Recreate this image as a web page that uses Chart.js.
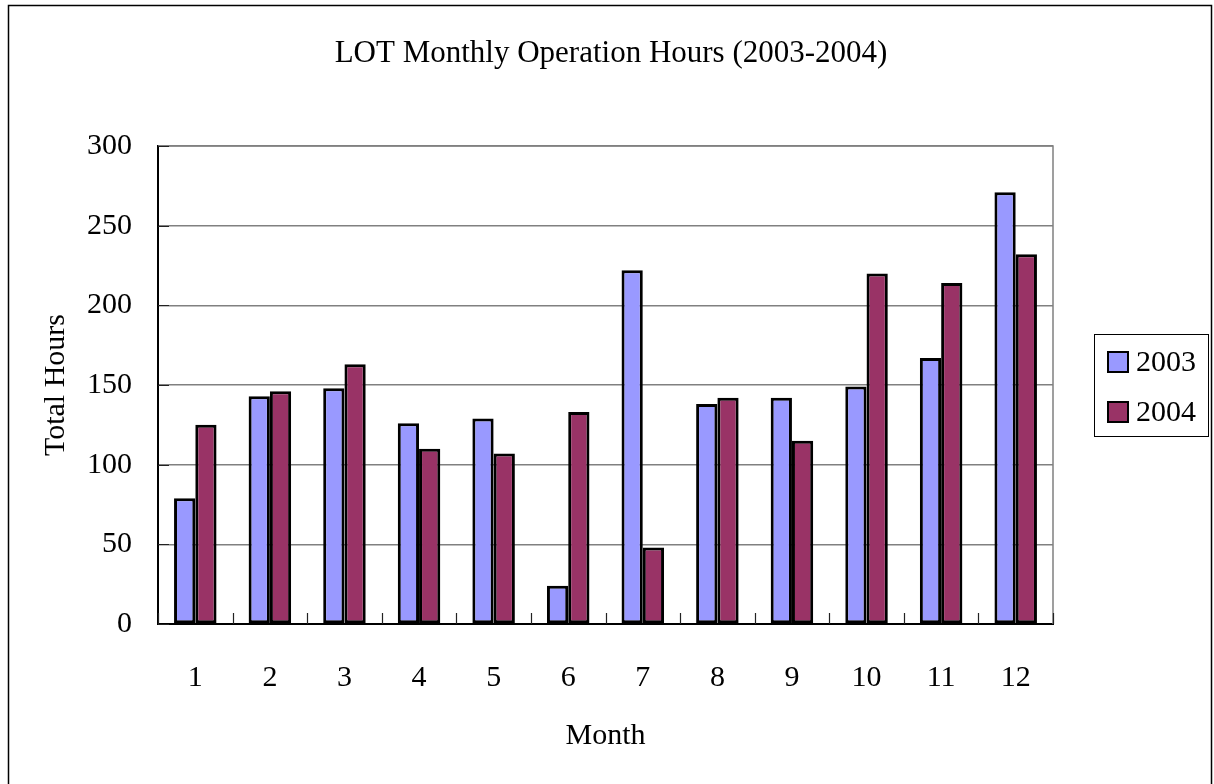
<!DOCTYPE html>
<html lang="en">
<head>
    <meta charset="UTF-8">
    <title>LOT Monthly Operation Hours</title>
    <style>
        body { margin: 0; background: #fff; }
        canvas { display: block; }
    </style>
</head>
<body>
    <canvas id="hoursChart" width="1214" height="784"></canvas>

<script src="https://cdn.jsdelivr.net/npm/chart.js"></script>
<script>
    const months = ['1', '2', '3', '4', '5', '6', '7', '8', '9', '10', '11', '12'];
    const hours2003 = [79, 143, 148, 126, 129, 24, 222, 138, 142, 149, 167, 271];
    const hours2004 = [125, 146, 163, 110, 107, 133, 48, 142, 115, 220, 214, 232];
    const seriesNames = ['2003', '2004'];
    const seriesColors = ['#9999ff', '#993366'];

    const serif = "'Liberation Serif', 'Times New Roman', serif";

    // title, outer frame, plot frame, inner ticks and the boxed legend
    const decorations = {
        id: 'decorations',
        afterDraw(chart) {
            const ctx = chart.ctx;
            const area = chart.chartArea;
            const x = chart.scales.x;
            const y = chart.scales.y;
            ctx.save();

            // outer frame
            ctx.strokeStyle = '#000';
            ctx.lineWidth = 1.5;
            ctx.strokeRect(8.5, 5.5, 1203, 800);

            // title
            ctx.fillStyle = '#000';
            ctx.font = '31px ' + serif;
            ctx.textAlign = 'center';
            ctx.textBaseline = 'alphabetic';
            ctx.fillText('LOT Monthly Operation Hours (2003-2004)', 611, 62);

            // grey top / right edge of plot
            ctx.strokeStyle = '#808080';
            ctx.lineWidth = 1.5;
            ctx.beginPath();
            ctx.moveTo(area.left, area.top);
            ctx.lineTo(area.right, area.top);
            ctx.lineTo(area.right, area.bottom);
            ctx.stroke();

            // inner ticks
            ctx.strokeStyle = '#222';
            ctx.lineWidth = 1.2;
            ctx.beginPath();
            y.ticks.forEach(t => {
                const py = Math.round(y.getPixelForValue(t.value)) + 0.5;
                ctx.moveTo(area.left, py);
                ctx.lineTo(area.left + 11, py);
            });
            const half = (x.getPixelForValue(1) - x.getPixelForValue(0)) / 2;
            for (let i = 0; i <= months.length; i++) {
                const px = Math.round(x.getPixelForValue(i) - half) + 0.5;
                ctx.moveTo(px, area.bottom);
                ctx.lineTo(px, area.bottom - 11);
            }
            ctx.stroke();

            // legend
            ctx.strokeStyle = '#000';
            ctx.lineWidth = 1;
            ctx.strokeRect(1094.5, 334.5, 114, 102);
            ctx.font = '30px ' + serif;
            ctx.textAlign = 'left';
            ctx.textBaseline = 'middle';
            seriesNames.forEach((name, i) => {
                const top = 351 + i * 50;
                ctx.fillStyle = seriesColors[i];
                ctx.fillRect(1107, top, 22, 22);
                ctx.lineWidth = 2;
                ctx.strokeRect(1108, top + 1, 20, 20);
                ctx.fillStyle = '#000';
                ctx.fillText(name, 1136, top + 12);
            });
            ctx.restore();
        }
    };

    const ctx = document.getElementById('hoursChart').getContext('2d');
    const hoursChart = new Chart(ctx, {
        type: 'bar',
        data: {
            labels: months,
            datasets: [{
                label: seriesNames[0],
                data: hours2003,
                backgroundColor: seriesColors[0],
                borderColor: '#000',
                borderWidth: 3,
                borderSkipped: false
            }, {
                label: seriesNames[1],
                data: hours2004,
                backgroundColor: seriesColors[1],
                borderColor: '#000',
                borderWidth: 3,
                borderSkipped: false
            }]
        },
        options: {
            responsive: false,
            animation: false,
            layout: {
                padding: { left: 36, top: 146, right: 161, bottom: 10 }
            },
            datasets: {
                bar: { categoryPercentage: 0.57, barPercentage: 1.0 }
            },
            scales: {
                x: {
                    afterFit(scale) { scale.height = 150; },
                    grid: { display: false },
                    border: { display: true, color: '#000', width: 2 },
                    ticks: {
                        color: '#000',
                        padding: 28,
                        font: { family: serif, size: 30 }
                    },
                    title: {
                        display: true,
                        text: 'Month',
                        color: '#000',
                        padding: { top: 0, bottom: 20 },
                        font: { family: serif, size: 30 }
                    }
                },
                y: {
                    min: 0,
                    max: 300,
                    afterFit(scale) { scale.width = 122; },
                    grid: { color: '#808080', lineWidth: 1.5, drawTicks: false },
                    border: { display: true, color: '#000', width: 2 },
                    ticks: {
                        stepSize: 50,
                        color: '#000',
                        padding: 26,
                        font: { family: serif, size: 30 }
                    },
                    title: {
                        display: true,
                        text: 'Total Hours',
                        color: '#000',
                        padding: { top: 2, bottom: 0 },
                        font: { family: serif, size: 30 }
                    }
                }
            },
            plugins: {
                legend: { display: false },
                title: { display: false },
                tooltip: { enabled: false }
            }
        },
        plugins: [decorations]
    });
</script>
</body>
</html>
